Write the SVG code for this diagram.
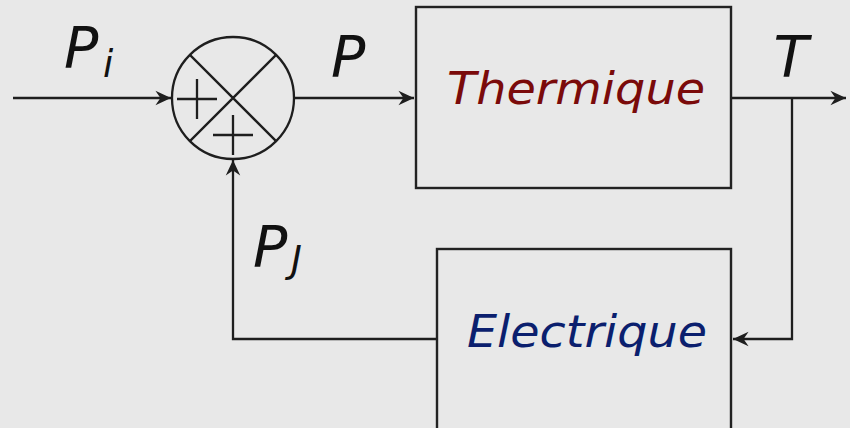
<svg xmlns="http://www.w3.org/2000/svg" width="850" height="428" viewBox="0 0 850 428">
<style>
.ln{fill:none;stroke:#1e1e1e;stroke-width:2.3}
.box{fill:none;stroke:#222;stroke-width:2.4}
.lab{font-family:"DejaVu Sans",sans-serif;font-style:italic;fill:#111}
.big{font-size:57px}
.sub{font-size:37px}
.blk{font-family:"DejaVu Sans",sans-serif;font-style:italic;font-size:45px}
</style>
<defs>
<marker id="arr" markerUnits="userSpaceOnUse" markerWidth="20" markerHeight="20" viewBox="-16 -8 18 16" refX="0" refY="0" orient="auto">
<path d="M0,0 L-14,-6.5 L-9.5,0 L-14,6.5 Z" fill="#1e1e1e"/>
</marker>
</defs>
<rect width="850" height="428" fill="#e8e8e8"/>
<g id="connectors">
<path class="ln" d="M13,98 H171" marker-end="url(#arr)"/>
<path class="ln" d="M295,98 H414" marker-end="url(#arr)"/>
<path class="ln" d="M731,98 H846" marker-end="url(#arr)"/>
<path class="ln" d="M792,98 V339 H733" marker-end="url(#arr)"/>
<path class="ln" d="M437,339 H233 V160" marker-end="url(#arr)"/>
</g>
<g id="sum">
<circle cx="233" cy="98" r="61" class="ln"/>
<path class="ln" d="M189.9,54.9 L276.1,141.1 M276.1,54.9 L189.9,141.1"/>
<path class="ln" d="M177,99 H217 M197,79 V119"/>
<path class="ln" d="M213,135 H253 M233,115 V155"/>
</g>
<g id="thermique">
<rect x="416" y="7" width="315" height="181" class="box"/>
<text x="576" y="104" text-anchor="middle" class="blk" fill="#7a0a0a" textLength="258" lengthAdjust="spacingAndGlyphs">Thermique</text>
</g>
<g id="electrique">
<rect x="437" y="249" width="294" height="195" class="box"/>
<text x="587" y="347" text-anchor="middle" class="blk" fill="#0b1f6e" textLength="240" lengthAdjust="spacingAndGlyphs">Electrique</text>
</g>
<g id="labels">
<text x="64" y="68" class="lab big">P</text>
<text x="103" y="77" class="lab sub">i</text>
<text x="331" y="77" class="lab big">P</text>
<text x="791" y="77" text-anchor="middle" class="lab big">T</text>
<text x="253" y="267" class="lab big">P</text>
<text x="291" y="272" class="lab sub">J</text>
</g>
</svg>
